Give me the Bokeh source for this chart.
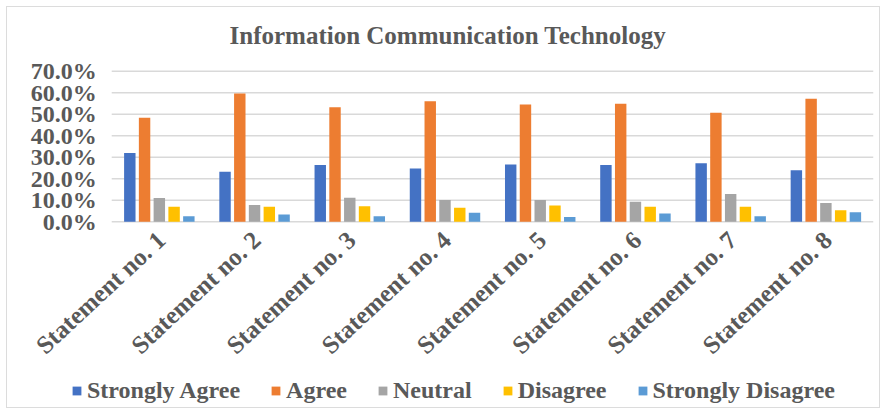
from bokeh.plotting import figure
from bokeh.models import ColumnDataSource, FactorRange, Legend, LegendItem
from bokeh.core.properties import value
from bokeh.transform import dodge
from bokeh.embed import file_html
from bokeh.resources import INLINE

categories = ["Statement no. 1", "Statement no. 2", "Statement no. 3", "Statement no. 4",
              "Statement no. 5", "Statement no. 6", "Statement no. 7", "Statement no. 8"]
strongly_agree = [0.32, 0.233, 0.264, 0.248, 0.267, 0.264, 0.272, 0.240]
agree = [0.484, 0.597, 0.533, 0.561, 0.546, 0.549, 0.507, 0.572]
neutral = [0.111, 0.078, 0.112, 0.101, 0.101, 0.093, 0.130, 0.088]
disagree = [0.070, 0.070, 0.073, 0.065, 0.076, 0.070, 0.070, 0.054]
strongly_disagree = [0.026, 0.034, 0.026, 0.042, 0.023, 0.039, 0.026, 0.045]
series_names = ["Strongly Agree", "Agree", "Neutral", "Disagree", "Strongly Disagree"]
y_ticks = [0.0, 0.1, 0.2, 0.3, 0.4, 0.5, 0.6, 0.7]
y_tick_labels = ["0.0%", "10.0%", "20.0%", "30.0%", "40.0%", "50.0%", "60.0%", "70.0%"]
title_text = "Information Communication Technology"

colors = ["#4472C4", "#ED7D31", "#A5A5A5", "#FFC000", "#5B9BD5"]
FONT = "'Liberation Serif', 'Times New Roman', serif"
TXT = "#595959"

source = ColumnDataSource(dict(cat=categories, sa=strongly_agree, ag=agree, ne=neutral,
                               di=disagree, sd=strongly_disagree))
ysrc = ColumnDataSource(dict(y=y_ticks, lab=y_tick_labels))
keys = ["sa", "ag", "ne", "di", "sd"]

# a blank leading factor gives room for the value labels; the frame extends below zero
# so the rotated category labels and the legend are drawn inside it
n = len(categories)
p = figure(x_range=FactorRange(" ", *categories), y_range=(-0.863, 0.75),
           frame_width=857, frame_height=347,
           output_backend="svg", toolbar_location=None, title=title_text,
           min_border_left=9, min_border_right=6, min_border_top=53, min_border_bottom=0)
p.styles = {"margin-left": "6px", "margin-top": "6px", "border": "1.5px solid #dcdcdc"}
p.outline_line_color = None
p.background_fill_color = "white"
p.border_fill_color = "white"

p.title.text_font = FONT
p.title.text_font_style = "bold"
p.title.text_font_size = "25px"
p.title.text_color = TXT
p.title.align = "left"
p.title.offset = 213
p.title.standoff = 23

# horizontal grid lines across the category span (synthetic coords 1 .. n+1)
p.segment(x0=1.0, x1=float(n + 1), y0="y", y1="y", source=ysrc,
          line_color="#d9d9d9", line_width=1.5)

# value labels
p.text(x=1.0, y="y", text="lab", source=ysrc, x_offset=-15, text_align="right",
       text_baseline="middle", text_font=value(FONT), text_font_style="bold",
       text_font_size="24px", text_color=TXT)

offsets = [-0.31, -0.155, 0.0, 0.155, 0.31]
items = []
for k, name, c, off in zip(keys, series_names, colors, offsets):
    r = p.vbar(x=dodge("cat", off, range=p.x_range), top=k, width=0.12, source=source,
               fill_color=c, line_color=None)
    items.append(LegendItem(label=name, renderers=[r]))

# category labels, rotated, anchored under each group
p.text(x="cat", y=0, text="cat", source=source, angle=0.75, text_align="right",
       text_baseline="middle", x_offset=2, y_offset=14, text_font=value(FONT),
       text_font_style="bold", text_font_size="25px", text_color=TXT)

legend = Legend(items=items, orientation="horizontal", location=(55, 3),
                label_text_font=FONT, label_text_font_style="bold", label_text_font_size="24px",
                label_text_color=TXT, glyph_width=11, glyph_height=11, label_standoff=5,
                spacing=30, border_line_color=None, background_fill_alpha=0,
                padding=0, margin=0)
p.add_layout(legend, "center")

p.xaxis.visible = False
p.yaxis.visible = False
p.xgrid.grid_line_color = None
p.ygrid.grid_line_color = None

open("out.html", "w").write(file_html(p, INLINE))
